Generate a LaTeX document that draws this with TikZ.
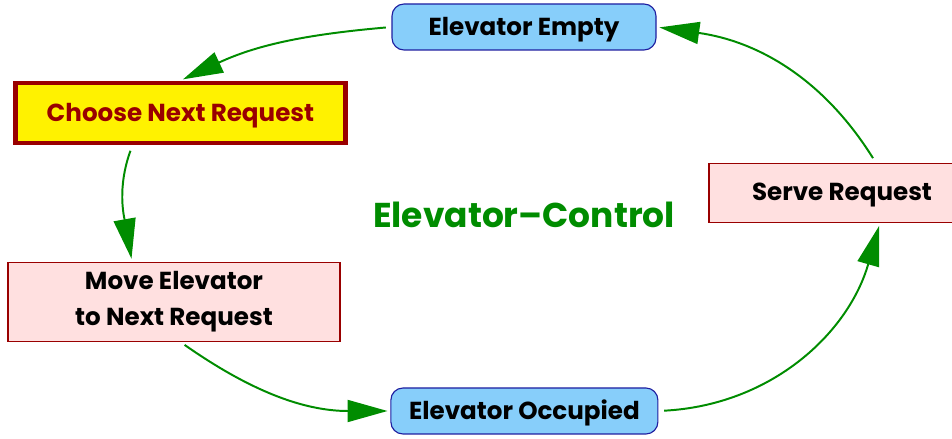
\documentclass[tikz,border=0pt]{standalone}
\usepackage{fontspec}
\setmainfont{Poppins}
\usepackage{tikz}
\usetikzlibrary{arrows.meta}
\definecolor{stategreen}{RGB}{0,140,0}
\definecolor{stateblue}{RGB}{135,206,250}
\definecolor{stateborder}{RGB}{30,30,160}
\definecolor{taskpink}{RGB}{255,224,224}
\definecolor{taskred}{RGB}{153,0,0}

\begin{document}
\begin{tikzpicture}[
		state/.style={draw=stateborder, line width=0.8pt, fill=stateblue, rounded corners=0.3cm,
			minimum width=6.6cm, minimum height=1.15cm, text depth=0.05cm,
			font=\fontsize{17.5}{20}\selectfont\bfseries},
		task/.style={draw=taskred, line width=0.8pt, fill=taskpink, align=center,
			font=\fontsize{17.5}{25}\selectfont\bfseries},
		flow/.style={draw=stategreen, line width=1.4pt, shorten >=2pt, shorten <=4pt,
			-{Triangle[length=1cm, width=0.55cm]}}]
		%%%%% START %%%%%
		
		\useasboundingbox (0, 0) rectangle (23.8, -10.975);
		
		\node[state] (empty) at (13.1, -0.675) {Elevator Empty};
		\node[state, minimum width=6.675cm] (occupied) at (13.11, -10.275) {Elevator Occupied};
		
		\node[task, draw=taskred, line width=3.5pt, fill=yellow, text=taskred, text depth=0.05cm,
			minimum width=8.25cm, minimum height=1.5cm] (choose) at (4.51, -2.825) {Choose Next Request};
		\node[task, minimum width=8.3cm, minimum height=1.975cm] (move) at (4.35, -7.54) {Move Elevator\\to Next Request};
		\node[task, text depth=0.05cm, minimum width=6.65cm, minimum height=1.475cm] (serve) at (21.05, -4.825) {Serve Request};
		
		\node[text=stategreen, font=\fontsize{24.5}{28}\selectfont\bfseries] (title) at (13.1, -5.375) {Elevator–Control};
		
		\draw[flow] (empty.west) to[out=185, in=25] (choose.north);
		\draw[flow] ([xshift=-1.2cm]choose.south) to[out=250, in=100] ([xshift=-1.05cm]move.north);
		\draw[flow] ([xshift=0.15cm]move.south) to[out=-35, in=180] (occupied.west);
		\draw[flow] (occupied.east) to[out=3, in=-106] ([xshift=0.95cm]serve.south);
		\draw[flow] ([xshift=0.85cm]serve.north) to[out=122, in=-8] (empty.east);
		
		%%%%% END %%%%%
	\end{tikzpicture}
\end{document}
